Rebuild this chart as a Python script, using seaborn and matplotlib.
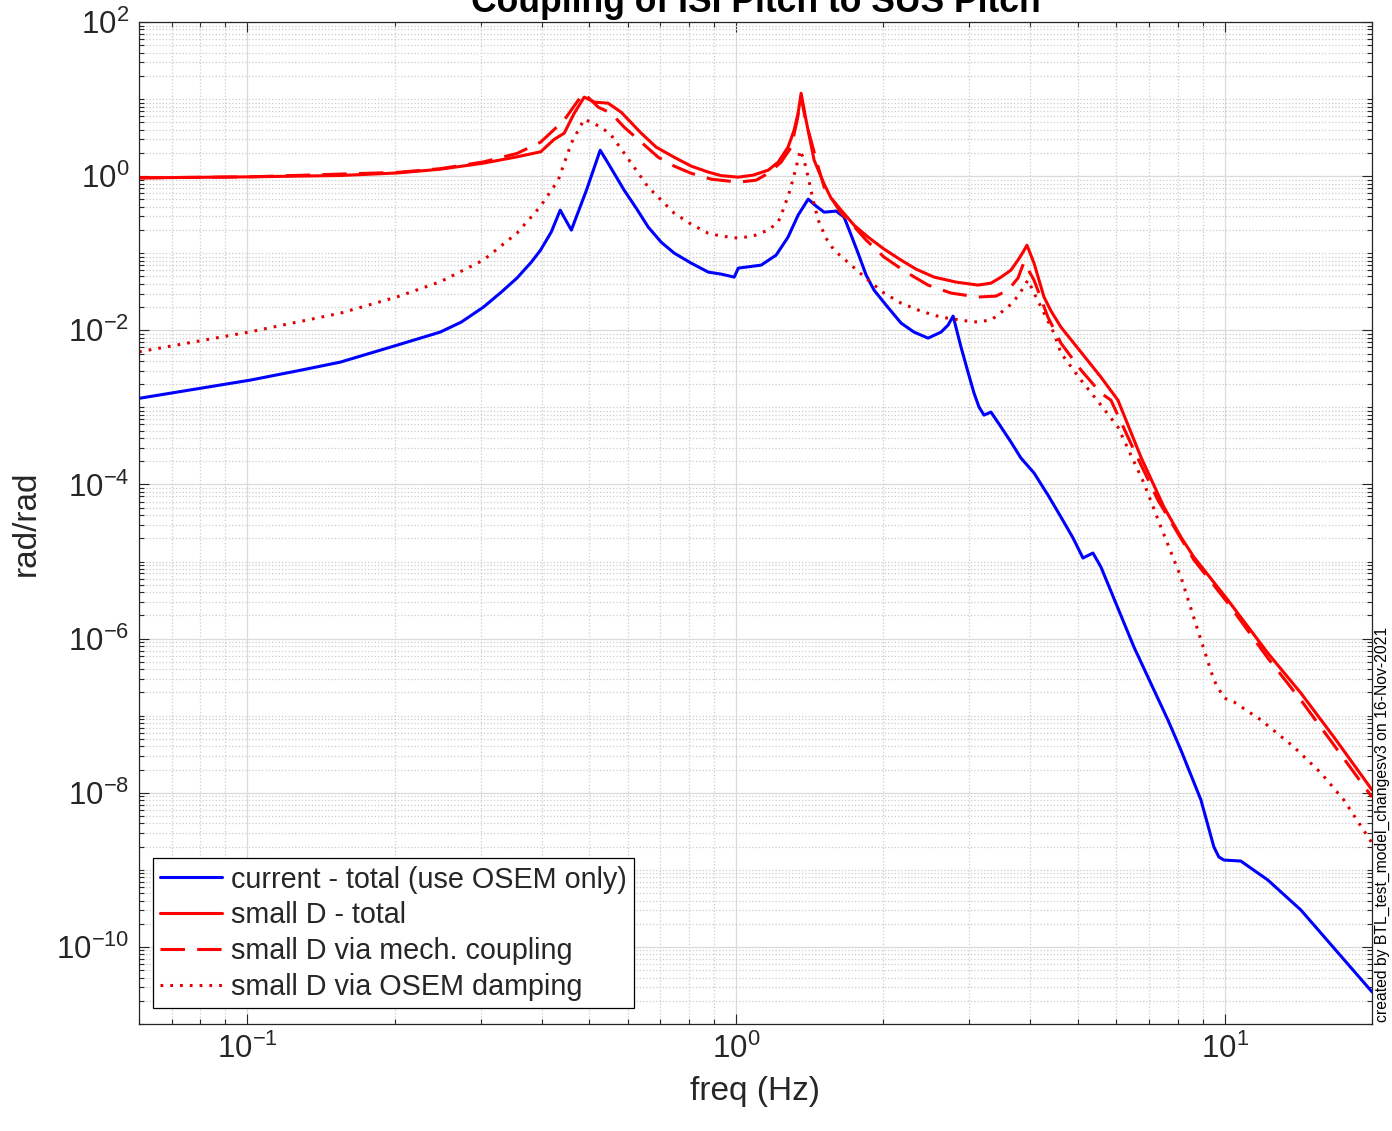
import numpy as np
import matplotlib
matplotlib.use('Agg')
import matplotlib.pyplot as plt
import matplotlib.ticker as mticker
import seaborn as sns

# current - total (use OSEM only)
freq_blue = [0.06, 0.1014, 0.129, 0.155, 0.2026, 0.248, 0.274, 0.304, 0.3307, 0.356,
             0.381, 0.398, 0.4184, 0.4365, 0.46, 0.494, 0.527, 0.547, 0.59, 0.6244,
             0.661, 0.7025, 0.747, 0.809, 0.877, 0.932, 0.991, 1.01, 1.125, 1.207,
             1.277, 1.339, 1.404, 1.458, 1.514, 1.602, 1.663, 1.719, 1.776, 1.845,
             1.915, 2.027, 2.175, 2.312, 2.47, 2.626, 2.714, 2.779, 2.885, 2.981,
             3.067, 3.14, 3.215, 3.322, 3.484, 3.65, 3.826, 4.069, 4.345, 4.619,
             4.89, 5.124, 5.371, 5.577, 6.515, 7.646, 8.128, 8.933, 9.495, 9.72,
             9.954, 10.78, 12.24, 14.3, 16.71, 20.0]
mag_blue = [1.31e-3, 2.26e-3, 3.05e-3, 3.87e-3, 6.43e-3, 9.48e-3, 1.28e-2, 2.0e-2, 3.13e-2, 4.76e-2,
            7.67e-2, 0.11, 0.188, 0.362, 0.1995, 0.658, 2.17, 1.474, 0.658, 0.385,
            0.218, 0.139, 0.1003, 0.0744, 0.0569, 0.0536, 0.049, 0.0641, 0.0701, 0.0944,
            0.162, 0.312, 0.503, 0.408, 0.341, 0.352, 0.294, 0.172, 0.1003, 0.052,
            0.0332, 0.0212, 0.0124, 9.48e-3, 7.92e-3, 9.48e-3, 1.168e-2, 1.528e-2, 6.05e-3, 2.87e-3,
            1.53e-3, 1.01e-3, 7.94e-4, 8.69e-4, 5.55e-4, 3.55e-4, 2.2e-4, 1.41e-4, 7.29e-5, 3.78e-5,
            2.02e-5, 1.11e-5, 1.29e-5, 8.49e-6, 7.78e-7, 8.8e-8, 3.59e-8, 8.07e-9, 1.98e-9, 1.47e-9,
            1.34e-9, 1.30e-9, 7.39e-10, 3.02e-10, 9.7e-11, 2.61e-11]

# small D - total
freq_total = [0.06, 0.1014, 0.155, 0.2026, 0.248, 0.304, 0.356, 0.398, 0.4243, 0.4448,
              0.4664, 0.4888, 0.5125, 0.547, 0.5817, 0.6393, 0.686, 0.7467, 0.809, 0.8765,
              0.932, 1.0095, 1.083, 1.163, 1.219, 1.277, 1.314, 1.339, 1.358, 1.39,
              1.444, 1.514, 1.564, 1.64, 1.743, 1.862, 2.008, 2.175, 2.334, 2.541,
              2.818, 3.125, 3.322, 3.484, 3.65, 3.773, 3.863, 3.936, 4.069, 4.265,
              4.408, 4.619, 5.077, 5.577, 6.042, 6.733, 7.504, 8.128, 8.643, 10.14,
              12.24, 14.3, 16.71, 20.0]
mag_total = [0.95, 0.98, 1.02, 1.10, 1.23, 1.475, 1.78, 2.07, 3.0, 3.61,
             6.56, 10.6, 9.12, 8.85, 6.76, 3.61, 2.38, 1.76, 1.35, 1.13,
             1.015, 0.97, 1.03, 1.196, 1.52, 2.38, 3.95, 6.56, 11.9, 5.33,
             1.61, 0.787, 0.518, 0.362, 0.231, 0.162, 0.113, 0.0814, 0.0622, 0.049,
             0.0422, 0.0386, 0.0409, 0.049, 0.0604, 0.0814, 0.1033, 0.127, 0.0744, 0.027,
             0.0178, 0.011, 5.21e-3, 2.47e-3, 1.24e-3, 2.27e-4, 5.09e-5, 2.08e-5, 1.14e-5, 3.17e-6,
             6.5e-7, 1.97e-7, 5.29e-8, 1.09e-8]

# small D via mech. coupling
freq_mech = [0.06, 0.1014, 0.2026, 0.248, 0.304, 0.356, 0.398, 0.4448, 0.4865, 0.505,
             0.5222, 0.555, 0.59, 0.6393, 0.6926, 0.7467, 0.809, 0.889, 1.0095, 1.099,
             1.163, 1.236, 1.296, 1.333, 1.358, 1.39, 1.472, 1.514, 1.64, 1.719,
             1.845, 2.008, 2.226, 2.47, 2.753, 3.125, 3.402, 3.6, 3.773, 3.881,
             4.069, 4.345, 4.619, 5.077, 5.577, 5.846, 6.515, 7.295, 7.94, 8.643,
             10.14, 12.24, 14.3, 16.71, 20.0]
mag_mech = [0.95, 0.98, 1.12, 1.25, 1.53, 1.97, 2.76, 5.33, 11.9, 9.68,
            7.85, 6.56, 4.32, 2.76, 1.76, 1.35, 1.09, 0.914, 0.836, 0.887,
            1.09, 1.52, 2.38, 5.33, 10.6, 5.0, 1.31, 0.72, 0.331, 0.246,
            0.148, 0.089, 0.0569, 0.0386, 0.0304, 0.027, 0.0278, 0.0332, 0.0476, 0.0767,
            0.0448, 0.0148, 6.82e-3, 3.05e-3, 1.53e-3, 1.24e-3, 2.79e-4, 6.28e-5, 2.56e-5, 1.05e-5,
            2.9e-6, 5.6e-7, 1.6e-7, 4.17e-8, 8.8e-9]

# small D via OSEM damping
freq_osem = [0.06, 0.1014, 0.155, 0.2026, 0.248, 0.304, 0.356, 0.397, 0.4325, 0.46,
             0.4888, 0.5295, 0.555, 0.59, 0.6244, 0.6607, 0.7025, 0.7467, 0.809, 0.8765,
             0.932, 1.0095, 1.083, 1.163, 1.219, 1.254, 1.289, 1.327, 1.352, 1.377,
             1.404, 1.437, 1.472, 1.527, 1.586, 1.719, 1.862, 2.008, 2.175, 2.39,
             2.626, 3.067, 3.322, 3.6, 3.773, 3.955, 4.069, 4.206, 4.469, 4.619,
             5.077, 5.577, 6.042, 6.83, 7.398, 8.128, 8.933, 9.495, 9.954, 10.43,
             11.85, 13.84, 15.72, 17.51, 20.0]
mag_osem = [5.26e-3, 9.57e-3, 0.0167, 0.0272, 0.0426, 0.0814, 0.182, 0.4, 0.887, 2.68,
            5.49, 4.32, 3.4, 1.99, 1.196, 0.72, 0.489, 0.331, 0.238, 0.182,
            0.167, 0.157, 0.167, 0.1995, 0.253, 0.396, 0.658, 1.31, 2.17, 1.61,
            0.97, 0.489, 0.269, 0.157, 0.1097, 0.0701, 0.0448, 0.0304, 0.0225, 0.0177,
            0.0148, 0.0128, 0.01355, 0.02, 0.0278, 0.0448, 0.0304, 0.02, 9.2e-3, 5.06e-3,
            2.26e-3, 1.07e-3, 5.55e-4, 1.04e-4, 2.8e-5, 6.3e-6, 9.6e-7, 2.9e-7, 1.7e-7, 1.51e-7,
            8.8e-8, 3.93e-8, 1.81e-8, 8.07e-9, 2.23e-9]

labels = ['current - total (use OSEM only)', 'small D - total',
          'small D via mech. coupling', 'small D via OSEM damping']

sns.set_style('ticks')
plt.rcParams['font.family'] = ['Liberation Sans', 'DejaVu Sans']
plt.rcParams['mathtext.default'] = 'regular'

W, H = 1392, 1131
fig = plt.figure(figsize=(W / 100, H / 100), dpi=100)
ax = fig.add_axes([139 / W, 1 - 1024 / H, 1233 / W, 1002 / H])

lw = 2.2
sns.lineplot(x=freq_blue, y=mag_blue, ax=ax, color='#0000ff', lw=lw,
             estimator=None, sort=False, label=labels[0])
sns.lineplot(x=freq_total, y=mag_total, ax=ax, color='#ff0000', lw=lw,
             estimator=None, sort=False, label=labels[1])
sns.lineplot(x=freq_mech, y=mag_mech, ax=ax, color='#ff0000', lw=lw,
             linestyle=(0, (8, 4)), estimator=None, sort=False, label=labels[2])
sns.lineplot(x=freq_osem, y=mag_osem, ax=ax, color='#e00000', lw=lw,
             linestyle=(0, (0.9, 2.3)), estimator=None, sort=False, label=labels[3])

ax.set_xscale('log')
ax.set_yscale('log')
ax.set_xlim(0.06, 20)
ax.set_ylim(1e-11, 1e2)

ax.set_yticks([1e-10, 1e-8, 1e-6, 1e-4, 1e-2, 1e0, 1e2])
ax.yaxis.set_minor_locator(mticker.LogLocator(base=10, subs=np.arange(1, 10), numticks=200))
ax.xaxis.set_minor_locator(mticker.LogLocator(base=10, subs=np.arange(2, 10), numticks=200))
ax.xaxis.set_minor_formatter(mticker.NullFormatter())
ax.yaxis.set_minor_formatter(mticker.NullFormatter())

ax.grid(True, which='major', color='#dadada', linestyle='-', linewidth=0.9)
ax.grid(True, which='minor', color='#cccccc', linestyle=':', linewidth=0.9)
ax.set_axisbelow(True)

ax.tick_params(which='both', direction='in', top=True, right=True,
               color='#262626', labelcolor='#262626', width=0.8)
ax.tick_params(which='major', length=7, labelsize=22.5, pad=7)
ax.tick_params(which='minor', length=3.5)
for s in ax.spines.values():
    s.set_color('#262626')
    s.set_linewidth(0.9)

ax.set_xlabel('freq (Hz)', fontsize=24, color='#262626', labelpad=8)
ax.set_ylabel('rad/rad', fontsize=24, color='#262626', labelpad=10)

leg = ax.legend(loc='lower left', bbox_to_anchor=(14 / 1233, 16 / 1002),
                borderaxespad=0, fontsize=20.7, frameon=True, fancybox=False,
                edgecolor='black', framealpha=1, handlelength=2.15,
                handletextpad=0.3, borderpad=0.25, labelspacing=0.27)
leg.get_frame().set_linewidth(0.9)

fig.text((139 + 1233 / 2) / W, 1 - 12 / H, 'Coupling of ISI Pitch to SUS Pitch',
         ha='center', va='baseline', fontsize=25.6, fontweight='bold', color='black')
fig.text(1382 / W, 1 - 1022 / H, 'created by BTL_test_model_changesv3 on 16-Nov-2021',
         rotation=90, ha='center', va='bottom', fontsize=11.3, color='black')

fig.savefig('out.png', dpi=100)
